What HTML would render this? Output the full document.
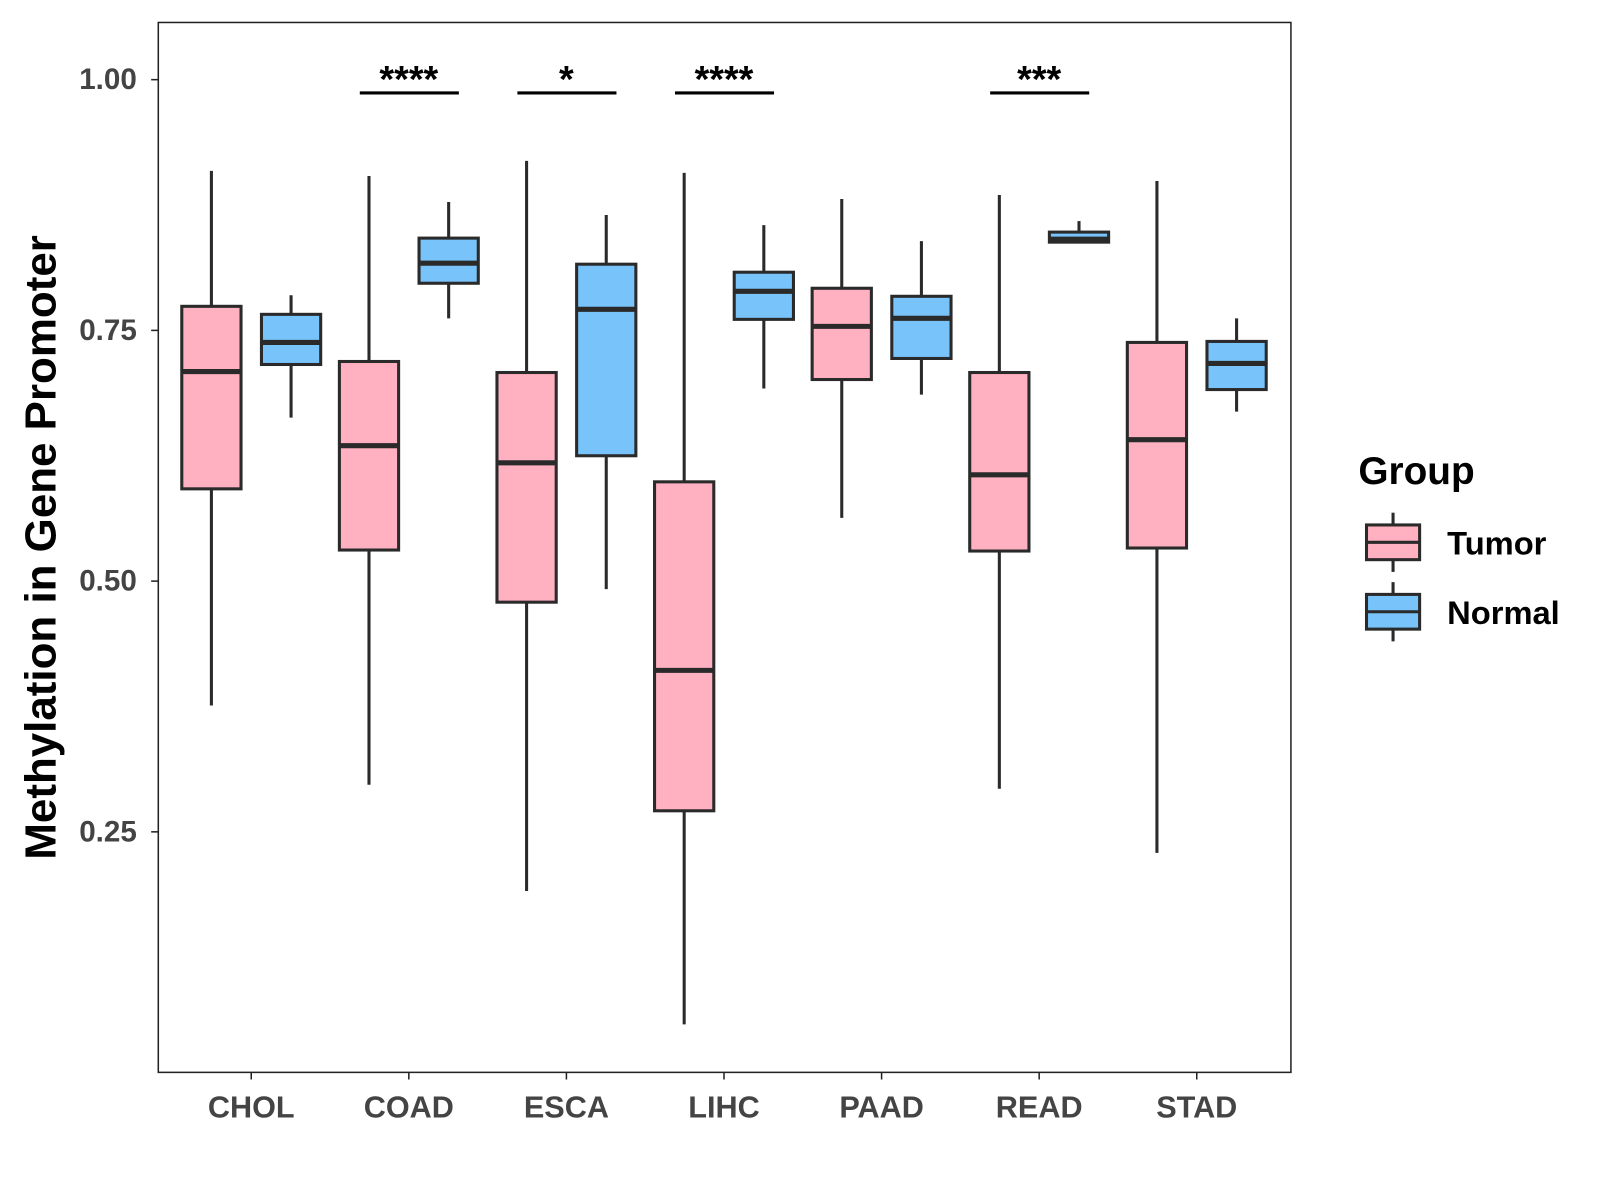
<!DOCTYPE html>
<html><head><meta charset="utf-8"><style>
html,body{margin:0;padding:0;background:#fff;}
svg{display:block;font-family:"Liberation Sans",Arial,sans-serif;}
</style></head><body>
<svg id="chart" width="1600" height="1200" viewBox="0 0 1600 1200">
<g transform="scale(1.0213)">
<rect x="155" y="22" width="1109" height="1028" fill="#fff" stroke="#222" stroke-width="1.5"/>
<g id="yaxis"></g>
<g id="xaxis"></g>
<g id="boxes"></g>
<g id="sig"></g>
<text x="40" y="536" transform="rotate(-90 40 536)" text-anchor="middle" dominant-baseline="central" font-size="43" font-weight="bold" fill="#000">Methylation in Gene Promoter</text>
<g>
<text x="1330" y="474" font-size="38" font-weight="bold" fill="#000">Group</text>
<g>
<line x1="1364" y1="502" x2="1364" y2="560" stroke="#2a2a2a" stroke-width="3"/>
<rect x="1338" y="514" width="52" height="34" fill="#FFB0C1" stroke="#2a2a2a" stroke-width="3"/>
<line x1="1338" y1="531" x2="1390" y2="531" stroke="#2a2a2a" stroke-width="3"/>
<text x="1417" y="543" font-size="32" font-weight="bold" fill="#000">Tumor</text>
</g>
<g>
<line x1="1364" y1="570" x2="1364" y2="628" stroke="#2a2a2a" stroke-width="3"/>
<rect x="1338" y="582" width="52" height="34" fill="#78C3FA" stroke="#2a2a2a" stroke-width="3"/>
<line x1="1338" y1="599" x2="1390" y2="599" stroke="#2a2a2a" stroke-width="3"/>
<text x="1417" y="611" font-size="32" font-weight="bold" fill="#000">Normal</text>
</g>
</g>
</g>
</svg>
<script>
const categories = ["CHOL","COAD","ESCA","LIHC","PAAD","READ","STAD"];
// [lower whisker, Q1, median, Q3, upper whisker]
const tumorStats = [
 [0.376,0.592,0.709,0.774,0.909],
 [0.297,0.531,0.635,0.719,0.904],
 [0.191,0.479,0.618,0.708,0.919],
 [0.058,0.271,0.411,0.599,0.907],
 [0.563,0.701,0.754,0.792,0.881],
 [0.293,0.530,0.606,0.708,0.885],
 [0.229,0.533,0.641,0.738,0.899]
];
const normalStats = [
 [0.663,0.716,0.738,0.766,0.785],
 [0.762,0.797,0.817,0.842,0.878],
 [0.492,0.625,0.771,0.816,0.865],
 [0.692,0.761,0.789,0.808,0.855],
 [0.686,0.722,0.762,0.784,0.839],
 [0.838,0.838,0.841,0.848,0.859],
 [0.669,0.691,0.717,0.739,0.762]
];
const yTicks = [0.25,0.50,0.75,1.00];
const yTickLabels = ["0.25","0.50","0.75","1.00"];
const sigCategories = ["COAD","ESCA","LIHC","READ"];
const sigLabels = ["****","*","****","***"];

const NS="http://www.w3.org/2000/svg";
function y(v){return 78+(1-v)*982;}
function x(i){return 246+i*154.3;}
function mk(tag,attrs,parent){const e=document.createElementNS(NS,tag);for(const k in attrs)e.setAttribute(k,attrs[k]);parent.appendChild(e);return e;}

const ya=document.getElementById('yaxis');
yTicks.forEach((t,i)=>{
 const l=mk('line',{x1:148,x2:155,y1:y(t),y2:y(t),stroke:'#222','stroke-width':1.5},ya);
 
 
 const tx=mk('text',{x:134,y:y(t),'text-anchor':'end','dominant-baseline':'central','font-size':29,'font-weight':'bold',fill:'#444'},ya);
 tx.textContent=yTickLabels[i];
 
 
});
const xa=document.getElementById('xaxis');
categories.forEach((c,i)=>{
 const l=mk('line',{x1:x(i),x2:x(i),y1:1050,y2:1057,stroke:'#222','stroke-width':1.5},xa);
 
 
 const tx=mk('text',{x:x(i),y:1094,'text-anchor':'middle','font-size':30,'font-weight':'bold',fill:'#444'},xa);
 tx.textContent=c;
 
 
});
const bx=document.getElementById('boxes');
function drawBox(s,cx,fill,name){
 const g=mk('g',{},bx);
 
 
 const w=58,st='#2a2a2a';
 mk('line',{x1:cx,x2:cx,y1:y(s[4]),y2:y(s[0]),stroke:st,'stroke-width':3},g);
 mk('rect',{x:cx-w/2,y:y(s[3]),width:w,height:Math.max(y(s[1])-y(s[3]),1),fill:fill,stroke:st,'stroke-width':3},g);
 mk('line',{x1:cx-w/2,x2:cx+w/2,y1:y(s[2]),y2:y(s[2]),stroke:st,'stroke-width':5},g);
}
categories.forEach((c,i)=>{
 drawBox(tumorStats[i],x(i)-39,'#FFB0C1','box-tumor-'+c.toLowerCase());
 drawBox(normalStats[i],x(i)+39,'#78C3FA','box-normal-'+c.toLowerCase());
});
const sg=document.getElementById('sig');
sigCategories.forEach((c,k)=>{
 const i=categories.indexOf(c);
 const l=mk('line',{x1:x(i)-48,x2:x(i)+49,y1:91,y2:91,stroke:'#000','stroke-width':3},sg);
 
 
 const t=mk('text',{x:x(i),y:90,'text-anchor':'middle','font-size':37,'font-weight':'bold',fill:'#000'},sg);
 t.textContent=sigLabels[k];
 
 
});
</script>
</body></html>
